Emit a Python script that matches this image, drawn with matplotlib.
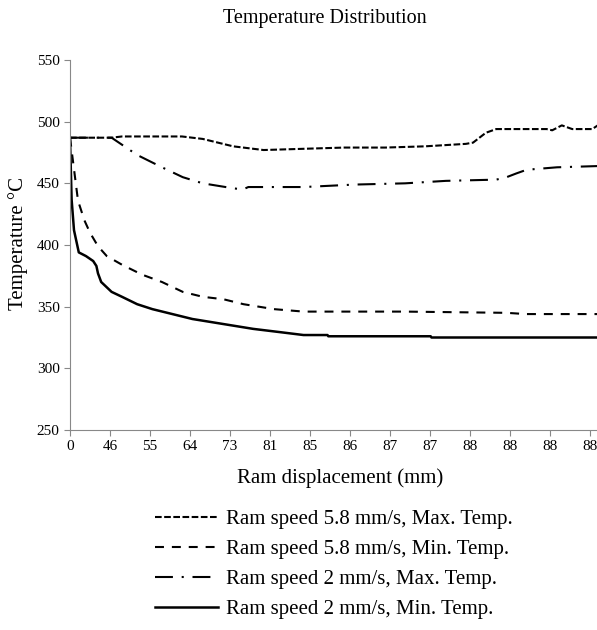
import matplotlib.pyplot as plt

plt.rcParams['font.family'] = ['Liberation Serif', 'DejaVu Serif']

# x positions are data point numbers (Excel category axis, label every 50 points)
tick_labels = ["0", "46", "55", "64", "73", "81", "85", "86", "87", "87", "88", "88", "88", "88"]

max58_x = [0, 52, 65, 140, 166, 204, 242, 292, 343, 394, 444, 495, 504, 520, 533, 596, 603, 615, 628, 653, 660]
max58_y = [487, 487, 488, 488, 486, 480, 477, 478, 479, 479, 480, 482, 483, 491, 494, 494, 493, 497, 494, 494, 497]

min58_x = [0, 10, 18, 25, 35, 46, 65, 90, 115, 141, 166, 192, 217, 255, 292, 419, 546, 570, 660]
min58_y = [487, 436, 420, 410, 399, 391, 384, 376, 370, 362, 358, 356, 352, 348, 346, 346, 345, 344, 344]

max2_x = [0, 52, 84, 115, 141, 166, 204, 216, 223, 242, 292, 356, 419, 470, 533, 546, 558, 571, 609, 660]
max2_y = [487, 487, 473, 463, 455, 450, 446, 445, 447, 447, 447, 449, 450, 452, 453, 455, 458, 461, 463, 464]

min2_x = [0, 2, 5, 11, 20, 29, 33, 35, 39, 52, 65, 84, 103, 128, 153, 191, 229, 267, 292, 322, 323, 451, 452, 660]
min2_y = [487, 437, 412, 394, 391, 387, 383, 377, 370, 362, 358, 352, 348, 344, 340, 336, 332, 329, 327, 327, 326, 326, 325, 325]

fig = plt.figure(figsize=(5.97, 6.3), dpi=100)
ax = fig.add_axes([70 / 597, 1 - 430 / 630, 527 / 597, 370 / 630])

ax.plot(max58_x, max58_y, color='black', lw=1.5, linestyle=(0, (3.2, 1.2)),
        label='Ram speed 5.8 mm/s, Max. Temp.')
ax.plot(min58_x, min58_y, color='black', lw=1.5, linestyle=(0, (4.3, 3.8)),
        label='Ram speed 5.8 mm/s, Min. Temp.')
ax.plot(max2_x, max2_y, color='black', lw=1.5, linestyle=(0, (8.6, 4.2, 1, 4.2)),
        label='Ram speed 2 mm/s, Max. Temp.')
ax.plot(min2_x, min2_y, color='black', lw=1.8, linestyle='-',
        label='Ram speed 2 mm/s, Min. Temp.')

ax.set_xlim(0, 659)
ax.set_ylim(250, 550)
ax.set_yticks(range(250, 551, 50))
ax.set_xticks([i * 50 for i in range(len(tick_labels))])
ax.set_xticklabels(tick_labels)
ax.tick_params(labelsize=11, length=4, color='#888888', direction='out')

for s in ['top', 'right']:
    ax.spines[s].set_visible(False)
ax.spines['left'].set_color('#888888')
ax.spines['bottom'].set_color('#888888')
ax.spines['bottom'].set_linestyle((0, (1, 1)))

fig.text(325 / 597, 1 - 18 / 630, 'Temperature Distribution', fontsize=14.5,
         ha='center', va='center')
fig.text(340 / 597, 1 - 478 / 630, 'Ram displacement (mm)', fontsize=15,
         ha='center', va='center')
fig.text(18 / 597, 1 - 244 / 630, 'Temperature \u00b0C', fontsize=15,
         ha='center', va='center', rotation=90)

fig.legend(loc='center left', bbox_to_anchor=(155 / 597, 1 - 564 / 630), frameon=False,
           fontsize=15, handlelength=3.0, labelspacing=0.5, handletextpad=0.4,
           borderpad=0, borderaxespad=0)

plt.savefig('out.png', dpi=100)
